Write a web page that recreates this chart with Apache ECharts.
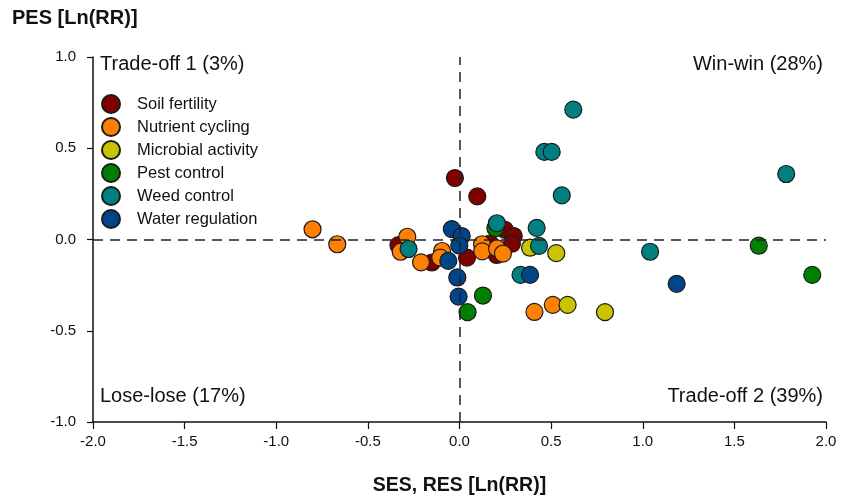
<!DOCTYPE html>
<html>
<head>
<meta charset="utf-8">
<script src="https://cdn.jsdelivr.net/npm/echarts@6/dist/echarts.min.js"></script>
<style>html,body{margin:0;padding:0;background:#fff}#c{width:845px;height:501px}</style>
</head>
<body>
<div id="c"></div>
<script>
const seriesNames = ['Soil fertility','Nutrient cycling','Microbial activity','Pest control','Weed control','Water regulation'];
const colors = ['#800000','#FF8000','#C8C400','#008000','#008080','#00458A'];
const soilFertility = [[-0.025,0.337],[0.097,0.236],[-0.333,-0.031],[-0.151,-0.126],[0.041,-0.099],[0.248,0.053],[0.296,0.019],[0.286,-0.023],[0.166,-0.022],[0.203,-0.085]];
const nutrientCycling = [[-0.802,0.056],[-0.667,-0.026],[-0.285,0.015],[-0.321,-0.067],[-0.21,-0.125],[-0.095,-0.063],[-0.105,-0.099],[0.123,-0.026],[0.124,-0.065],[0.205,-0.049],[0.237,-0.077],[0.409,-0.397],[0.509,-0.358]];
const microbialActivity = [[0.385,-0.045],[0.528,-0.075],[0.59,-0.358],[0.794,-0.398]];
const pestControl = [[0.196,0.062],[0.128,-0.307],[0.044,-0.398],[1.633,-0.034],[1.925,-0.194]];
const weedControl = [[-0.278,-0.052],[0.204,0.089],[0.421,0.064],[0.434,-0.035],[0.333,-0.194],[0.558,0.242],[0.463,0.48],[0.503,0.48],[0.621,0.712],[1.783,0.359],[1.04,-0.067]];
const waterRegulation = [[-0.042,0.057],[0.012,0.019],[-0.001,-0.033],[-0.061,-0.117],[-0.012,-0.208],[-0.005,-0.313],[0.385,-0.194],[1.185,-0.243]];
const allData = [soilFertility,nutrientCycling,microbialActivity,pestControl,weedControl,waterRegulation];
const quadrantLabels = ['Trade-off 1 (3%)','Win-win (28%)','Lose-lose (17%)','Trade-off 2 (39%)'];
const xTitle = 'SES, RES [Ln(RR)]';
const yTitle = 'PES [Ln(RR)]';

const chart = echarts.init(document.getElementById('c'), null, {renderer:'canvas'});
const font = 'Liberation Sans, Arial, sans-serif';
const series = seriesNames.map((n,i)=>({
  name:n, type:'scatter', data:allData[i], symbol:'circle', symbolSize:17,
  itemStyle:{color:colors[i], borderColor:'#1a1a1a', borderWidth:1.2, opacity:1},
  emphasis:{disabled:true}, z:2
}));
series.push({
  name:'ref', type:'scatter', data:[], z:5, silent:true,
  markLine:{silent:true, symbol:'none', label:{show:false},
    lineStyle:{color:'#222', type:[10,7], width:1.5},
    data:[{xAxis:0},{yAxis:0}], animation:false}
});
chart.setOption({
  animation:false,
  backgroundColor:'#fff',
  grid:{left:93, right:19, top:57, bottom:76},
  legend:{
    data:seriesNames, orient:'vertical', left:96, top:89,
    itemWidth:18, itemHeight:18, itemGap:3, icon:'circle',
    textStyle:{fontFamily:font, fontSize:16.5, color:'#111', padding:[0,0,0,12]}
  },
  xAxis:{
    type:'value', min:-2, max:2, interval:0.5,
    name:xTitle, nameLocation:'middle', nameGap:54,
    nameTextStyle:{fontFamily:font, fontSize:19.5, fontWeight:'bold', color:'#111'},
    axisLine:{onZero:false, lineStyle:{color:'#111', width:1.5}},
    axisTick:{show:true, inside:false, length:7, lineStyle:{color:'#111', width:1.2}},
    axisLabel:{fontFamily:font, fontSize:15, color:'#111', margin:12, formatter:v=>v.toFixed(1)},
    splitLine:{show:false}
  },
  yAxis:{
    type:'value', min:-1, max:1, interval:0.5,
    axisLine:{show:true, onZero:false, lineStyle:{color:'#111', width:1.5}},
    axisTick:{show:true, inside:false, length:6, lineStyle:{color:'#111', width:1.2}},
    axisLabel:{fontFamily:font, fontSize:15, color:'#111', margin:17, formatter:v=>v.toFixed(1)},
    splitLine:{show:false}
  },
  graphic:[
    {type:'text', left:12, top:8, style:{text:yTitle, font:'bold 20px '+font, fill:'#111'}},
    {type:'text', left:100, top:54, style:{text:quadrantLabels[0], font:'20px '+font, fill:'#111'}},
    {type:'text', right:22, top:54, style:{text:quadrantLabels[1], font:'20px '+font, fill:'#111'}},
    {type:'text', left:100, top:386, style:{text:quadrantLabels[2], font:'20px '+font, fill:'#111'}},
    {type:'text', right:22, top:386, style:{text:quadrantLabels[3], font:'20px '+font, fill:'#111'}}
  ],
  series:series
});
</script>
</body>
</html>
